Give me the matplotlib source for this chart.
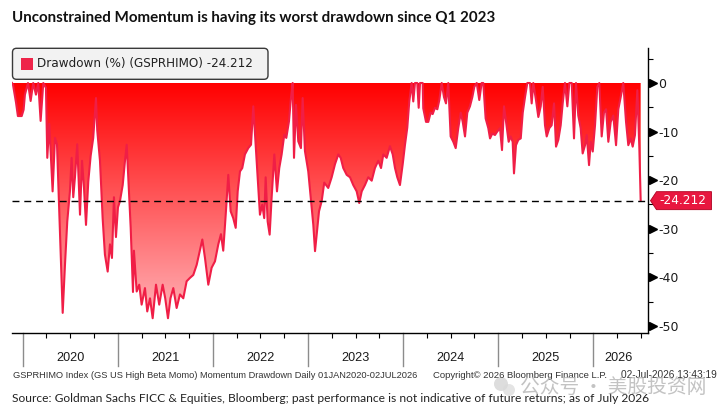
import numpy as np
import matplotlib
matplotlib.use("Agg")
import matplotlib.pyplot as plt
import matplotlib.transforms as mtransforms
from matplotlib import font_manager
from matplotlib.patches import FancyBboxPatch, Polygon, Rectangle, Circle

# drawdown (%) of GSPRHIMO (decimal year, value)
obs_2020 = [(2019.888, 0.0), (2019.898, -0.3), (2019.930, -4.0), (2019.950, -6.8), (2019.990, -6.8),
            (2020.010, -5.5), (2020.024, -2.4), (2020.056, 0.0), (2020.084, -3.7), (2020.111, 0.0),
            (2020.140, -2.4), (2020.164, 0.0), (2020.189, -7.8), (2020.217, 0.0), (2020.245, -1.0),
            (2020.259, -15.4), (2020.280, -8.4), (2020.315, -22.3), (2020.340, -11.3), (2020.361, -12.6),
            (2020.385, -26.4), (2020.421, -47.3), (2020.445, -37.4), (2020.469, -28.5), (2020.497, -22.3),
            (2020.515, -15.4), (2020.532, -23.5), (2020.550, -19.4), (2020.574, -12.6), (2020.603, -27.1),
            (2020.624, -16.0), (2020.645, -21.6), (2020.666, -29.2), (2020.690, -20.3), (2020.715, -15.0),
            (2020.742, -11.3), (2020.771, -3.1), (2020.784, -9.7), (2020.813, -16.0), (2020.841, -27.8),
            (2020.865, -35.3), (2020.894, -38.8), (2020.918, -33.2), (2020.939, -36.0), (2020.960, -23.5),
            (2020.981, -31.7)]
obs_2021 = [(2021.002, -25.6), (2021.023, -24.3), (2021.052, -21.0), (2021.076, -16.0), (2021.094, -12.7),
            (2021.110, -19.4), (2021.136, -29.8), (2021.160, -43.0), (2021.170, -34.5), (2021.199, -42.9),
            (2021.226, -41.5), (2021.251, -45.6), (2021.286, -42.2), (2021.310, -47.0), (2021.339, -44.3),
            (2021.367, -48.4), (2021.402, -41.5), (2021.436, -45.6), (2021.472, -41.5), (2021.499, -44.3),
            (2021.528, -48.4), (2021.554, -44.3), (2021.584, -42.2), (2021.619, -46.3), (2021.654, -43.5),
            (2021.689, -44.3), (2021.724, -40.8), (2021.759, -40.1), (2021.794, -39.5), (2021.830, -37.4),
            (2021.854, -35.3), (2021.889, -32.2), (2021.917, -36.0), (2021.952, -41.5), (2021.987, -38.0)]
obs_2022 = [(2022.022, -36.7), (2022.057, -33.2), (2022.085, -31.1), (2022.109, -34.5), (2022.135, -27.1),
            (2022.162, -18.9), (2022.187, -26.4), (2022.214, -27.8), (2022.240, -29.8), (2022.261, -22.3),
            (2022.285, -18.2), (2022.309, -17.5), (2022.337, -14.7), (2022.372, -13.4), (2022.401, -12.7),
            (2022.425, -4.8), (2022.450, -12.7), (2022.471, -19.4), (2022.495, -27.1), (2022.519, -25.0),
            (2022.540, -27.8), (2022.555, -19.4), (2022.576, -28.5), (2022.597, -31.2), (2022.618, -23.5),
            (2022.646, -14.7), (2022.674, -22.3), (2022.698, -17.5), (2022.723, -14.7), (2022.751, -10.6),
            (2022.772, -11.3), (2022.800, -7.9), (2022.821, -3.1), (2022.839, 0.0), (2022.853, -15.4),
            (2022.874, -4.5), (2022.898, -12.0), (2022.926, -13.4), (2022.944, -3.1), (2022.968, -14.0)]
obs_2023 = [(2023.003, -18.2), (2023.032, -24.3), (2023.056, -29.2), (2023.074, -34.6), (2023.095, -30.6),
            (2023.116, -26.4), (2023.144, -24.3), (2023.171, -20.5), (2023.213, -21.6), (2023.249, -19.4),
            (2023.284, -16.7), (2023.319, -14.7), (2023.344, -15.4), (2023.371, -17.5), (2023.407, -18.9),
            (2023.442, -19.4), (2023.476, -21.0), (2023.512, -22.3), (2023.539, -24.7), (2023.565, -22.3),
            (2023.599, -21.0), (2023.634, -19.4), (2023.670, -20.1), (2023.704, -17.5), (2023.739, -16.0),
            (2023.768, -17.5), (2023.792, -14.7), (2023.827, -15.4), (2023.862, -13.0), (2023.891, -14.7),
            (2023.915, -17.5), (2023.939, -19.4), (2023.967, -21.0), (2023.996, -16.7)]
obs_2024 = [(2024.020, -12.7), (2024.044, -9.2), (2024.065, -3.8), (2024.090, 0.0), (2024.107, -3.8),
            (2024.125, 0.0), (2024.149, 0.0), (2024.164, -5.1), (2024.178, 0.0), (2024.206, 0.0),
            (2024.212, -5.2), (2024.241, -8.0), (2024.265, -8.0), (2024.290, -6.1), (2024.311, -6.4),
            (2024.335, -5.1), (2024.360, -5.4), (2024.381, -3.5), (2024.406, 0.0), (2024.430, -2.9),
            (2024.451, -4.2), (2024.475, 0.0), (2024.500, -11.0), (2024.528, -12.1), (2024.553, -13.4),
            (2024.580, -9.3), (2024.606, -6.1), (2024.627, -8.0), (2024.651, -11.0), (2024.675, -6.1),
            (2024.703, -4.8), (2024.728, -2.9), (2024.749, -0.8), (2024.774, 0.0), (2024.801, -3.5),
            (2024.826, 0.0), (2024.843, 0.0), (2024.868, -7.3), (2024.896, -9.3), (2024.914, -11.4),
            (2024.938, -10.4), (2024.966, -10.7), (2024.990, -10.0)]
obs_2025 = [(2025.019, -9.3), (2025.040, -13.8), (2025.061, -4.8), (2025.082, -8.0), (2025.110, -12.1),
            (2025.131, -11.0), (2025.152, -12.1), (2025.166, -18.6), (2025.187, -12.8), (2025.211, -11.7),
            (2025.237, -11.4), (2025.258, -6.1), (2025.282, -2.9), (2025.306, 0.0), (2025.334, 0.0),
            (2025.352, -4.2), (2025.369, 0.0), (2025.397, -3.5), (2025.422, -7.0), (2025.447, -4.8),
            (2025.468, -0.8), (2025.492, -8.7), (2025.510, -11.0), (2025.537, -9.3), (2025.562, -8.7),
            (2025.587, -4.2), (2025.608, -13.1), (2025.632, -11.7), (2025.657, -8.7), (2025.678, -4.2),
            (2025.702, 0.0), (2025.727, -4.8), (2025.748, 0.0), (2025.773, 0.0), (2025.797, -11.4),
            (2025.818, 0.0), (2025.842, -6.7), (2025.867, -9.3), (2025.888, -14.5), (2025.913, -12.8),
            (2025.931, -10.7), (2025.955, -16.9), (2025.973, -12.1), (2025.994, -14.1)]
obs_2026 = [(2026.018, -8.7), (2026.042, -0.8), (2026.063, 0.0), (2026.088, -11.0), (2026.112, -6.1),
            (2026.134, -5.4), (2026.158, -12.1), (2026.183, -8.0), (2026.210, -6.7), (2026.239, -12.8),
            (2026.263, -5.4), (2026.288, -2.9), (2026.315, 0.0), (2026.344, -8.0), (2026.368, -12.8),
            (2026.393, -11.4), (2026.414, -13.1), (2026.438, -10.7), (2026.463, -1.5), (2026.484, -13.4),
            (2026.498, -24.212)]

last_value = -24.212
years = [2020, 2021, 2022, 2023, 2024, 2025, 2026]
y_ticks = [0, -10, -20, -30, -40, -50]
y_minor = [5, -5, -15, -25, -35, -45]

title = "Unconstrained Momentum is having its worst drawdown since Q1 2023"
legend_label = "Drawdown (%) (GSPRHIMO) -24.212"
footer_left = "GSPRHIMO Index (GS US High Beta Momo) Momentum Drawdown Daily 01JAN2020-02JUL2026"
footer_mid = "Copyright\u00a9 2026 Bloomberg Finance L.P."
footer_right = "02-Jul-2026 13:43:19"
source = ("Source: Goldman Sachs FICC & Equities, Bloomberg; past performance is not "
          "indicative of future returns; as of July 2026")
watermark = "公众号 · 美股投资网"

obs = obs_2020 + obs_2021 + obs_2022 + obs_2023 + obs_2024 + obs_2025 + obs_2026
t = np.array([p[0] for p in obs])
dd = np.array([p[1] for p in obs])

fonts = {f.name for f in font_manager.fontManager.ttflist}
if "Liberation Sans Narrow" in fonts:
    narrow = "Liberation Sans Narrow"
elif "Liberation Sans" in fonts:
    narrow = "Liberation Sans"
else:
    narrow = "DejaVu Sans"
head = "Lato" if "Lato" in fonts else "DejaVu Sans"

W, H = 725, 420
fig = plt.figure(figsize=(W / 100, H / 100), dpi=100)
ax = fig.add_axes([12 / W, 1 - 333 / H, 636 / W, 285 / H])
px = mtransforms.IdentityTransform()

# gradient fill clipped to the area under the curve
poly = ax.fill_between(t, dd, 0, color="none", lw=0)
n = 256
g = np.linspace(0, 1, n)
img = np.zeros((n, 1, 3))
img[:, 0, 0] = 1.0
img[:, 0, 1] = 0.72 * g
img[:, 0, 2] = 0.74 * g
im = ax.imshow(img, extent=[t[0], t[-1], -50, 0], aspect="auto", origin="upper",
               interpolation="bilinear", zorder=1)
im.set_clip_path(poly.get_paths()[0], transform=ax.transData)
ax.plot(t, dd, color="#f01e46", lw=1.5, zorder=2, solid_joinstyle="round")

ax.axhline(last_value, color="black", lw=1, dashes=(5, 3.5), zorder=3)

ax.set_xlim(2019.888, 2026.575)
ax.set_ylim(-51.44, 7.2)

for s in ["left", "top"]:
    ax.spines[s].set_visible(False)
for s in ["right", "bottom"]:
    ax.spines[s].set_color("black")
    ax.spines[s].set_linewidth(1)

# right y axis
ax.yaxis.tick_right()
ax.set_yticks(y_ticks)
ax.set_yticklabels([str(v) for v in y_ticks])
ax.set_yticks(y_minor, minor=True)
ax.tick_params(axis="y", which="major", length=0, pad=7.5, labelsize=9, labelcolor="#1a1a1a")
ax.tick_params(axis="y", which="minor", length=3.5, width=0.8, direction="out", color="black")
ty = mtransforms.blended_transform_factory(ax.transAxes, ax.transData)
ax.plot([1 + 5 / 636] * len(y_ticks), y_ticks, ls="none", marker=">", ms=5.5, color="black",
        transform=ty, clip_on=False)

# bottom axis: quarter ticks, year separators, year labels
quarters = [y + k * 0.25 for y in years for k in (1, 2, 3) if y + k * 0.25 < 2026.575]
ax.set_xticks([])
ax.set_xticks(quarters, minor=True)
ax.tick_params(axis="x", which="minor", length=3.6, width=0.8, direction="out", color="black")
tx = mtransforms.blended_transform_factory(ax.transData, ax.transAxes)
year_texts = []
for y in years:
    ax.plot([y, y], [0, -33 / 285], color="#8c8c8c", lw=1, transform=tx, clip_on=False)
    xc = y + 0.5 if y < 2026 else 2026.26
    year_texts.append(ax.text(xc, -25 / 285, str(y), transform=tx, ha="center", va="center",
                              family=narrow, fontsize=11, color="#1a1a1a"))

# last value tag
yd = ax.transData.transform((2026.0, last_value))[1]
x0 = ax.transAxes.transform((1, 0))[0]
tag = Polygon([(x0 + 2.5, yd), (x0 + 8.5, yd + 9), (x0 + 63.5, yd + 9), (x0 + 63.5, yd - 9),
               (x0 + 8.5, yd - 9)], closed=True, transform=px, fc="#e8173f", ec="#b00020", lw=0.6)
fig.add_artist(tag)
fig.text((x0 + 11) / W, yd / H, "-24.212", color="white", fontsize=8.7, va="center", ha="left")

# legend box
fig.add_artist(FancyBboxPatch((12.5, H - 79.3), 255.5, 31, boxstyle="round,pad=0,rounding_size=4",
                              transform=px, fc="#f2f2f2", ec="#3a3a3a", lw=1, zorder=5))
fig.add_artist(Rectangle((20.7, H - 70.3), 12, 12, transform=px, fc="#ee2449", ec="none", zorder=6))
leg = fig.text(37.3 / W, 1 - 64 / H, legend_label, fontsize=10, color="#222222", va="center",
               ha="left", zorder=7)

# texts
ttl = fig.text(12 / W, 1 - 22.3 / H, title, family=head, fontweight="bold", fontsize=11,
               va="baseline", color="#111111")
f1 = fig.text(13 / W, 1 - 375 / H, footer_left, family=narrow, fontsize=7, va="center", color="#333333")
f2 = fig.text(433 / W, 1 - 375 / H, footer_mid, family=narrow, fontsize=7, va="center", color="#333333")
f3 = fig.text(621 / W, 1 - 375 / H, footer_right, family=narrow, fontsize=7, va="center", color="#333333")
src = fig.text(12 / W, 1 - 399 / H, source, family=head, fontsize=9, va="center", color="#222222")

fig.add_artist(Circle((501, H - 384), 7, transform=px, fc="#cfcfcf", ec="none", alpha=0.7))
fig.add_artist(Circle((509, H - 390), 6, transform=px, fc="#d9d9d9", ec="none", alpha=0.7))
wm = fig.text(520 / W, 1 - 387 / H, watermark, family=["Noto Sans CJK SC", "DejaVu Sans"],
              fontsize=14, va="center", color="#b4b4b4", alpha=0.8)

renderer = fig.canvas.get_renderer()


def fit(txt, width):
    w = txt.get_window_extent(renderer).width
    txt.set_fontsize(txt.get_fontsize() * width / w)


fit(ttl, 485)
fit(leg, 216)
fit(f1, 406)
fit(f2, 174)
fit(f3, 95)
fit(src, 639)
fit(wm, 187)
for yt in year_texts:
    fit(yt, 28)

fig.savefig("out.png", dpi=100)
